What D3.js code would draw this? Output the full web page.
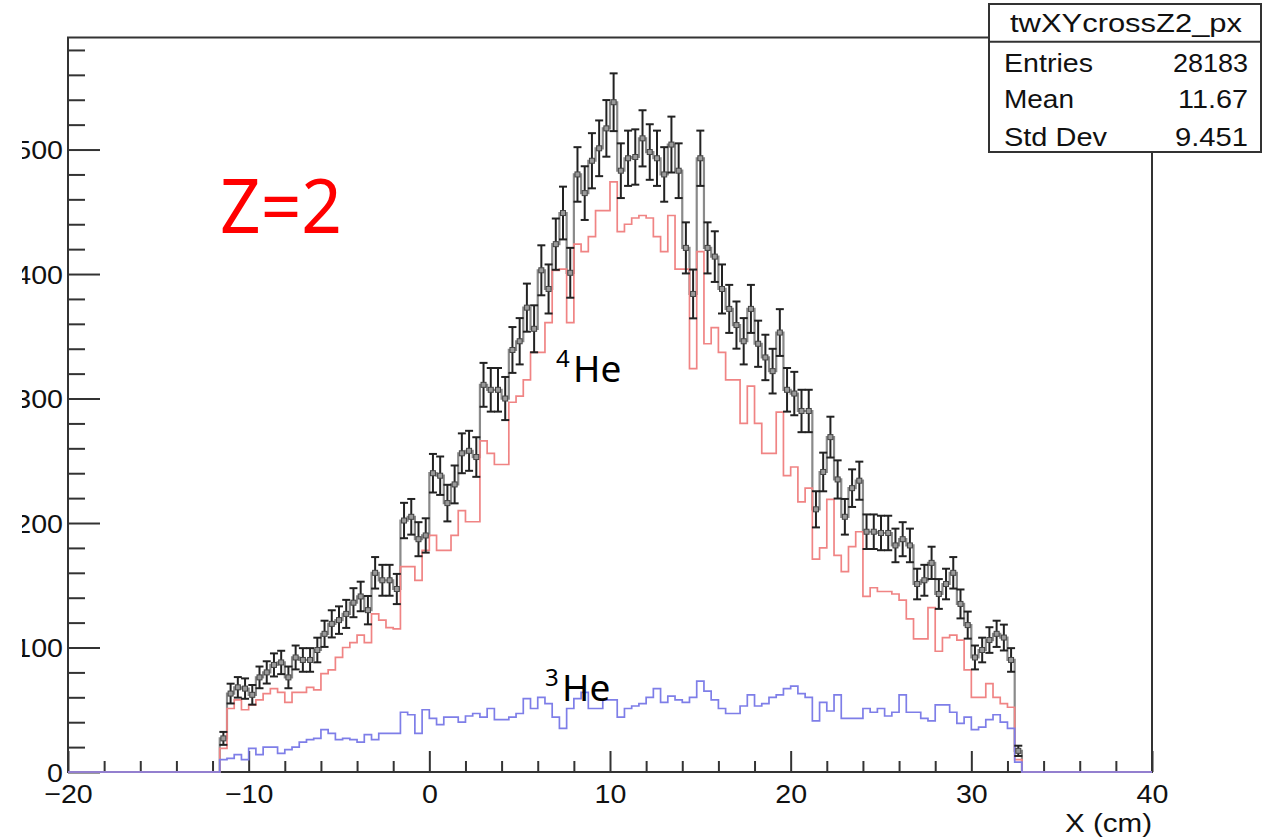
<!DOCTYPE html>
<html>
<head>
<meta charset="utf-8">
<script src="https://cdn.jsdelivr.net/npm/d3@7"></script>
<style>
  html, body { margin: 0; padding: 0; background: #fff; }
  svg { display: block; }
</style>
</head>
<body>
<svg id="chart" width="1262" height="839"></svg>
<script>
// ---------------- DATA ----------------
const binStart = -11.6;   // cm, low edge of first filled bin
const binWidth = 0.4;     // cm

// total (Z=2) data, entries per bin
const totalCounts = [
  27, 63, 68, 67, 62, 76, 80, 86, 88, 76,
  92, 90, 90, 98, 111, 119, 122, 127, 136, 141,
  130, 160, 154, 154, 147, 202, 205, 187, 190, 240,
  238, 216, 231, 256, 258, 253, 311, 307, 307, 300,
  339, 346, 373, 356, 403, 388, 424, 449, 401, 480,
  465, 491, 501, 517, 538, 483, 493, 494, 509, 498,
  493, 480, 504, 483, 421, 384, 493, 421, 414, 388,
  372, 359, 346, 372, 344, 333, 322, 353, 307, 304,
  290, 290, 211, 241, 269, 235, 205, 228, 234, 193,
  193, 192, 192, 182, 187, 182, 151, 154, 168, 143,
  151, 160, 135, 118, 92, 98, 106, 111, 108, 90,
  17
];

// 4He component
const he4Counts = [
  19, 51, 58, 50, 54, 58, 63, 67, 64, 56,
  64, 64, 68, 66, 79, 82, 92, 100, 104, 110,
  104, 127, 122, 116, 115, 165, 165, 154, 178, 190,
  178, 178, 190, 210, 201, 201, 266, 256, 247, 247,
  297, 302, 315, 337, 337, 361, 403, 404, 361, 424,
  418, 430, 451, 451, 474, 434, 440, 445, 447, 445,
  430, 418, 447, 404, 404, 324, 418, 344, 357, 337,
  315, 315, 280, 310, 280, 256, 256, 289, 238, 245,
  217, 228, 171, 180, 219, 174, 161, 181, 193, 141,
  148, 145, 145, 143, 138, 123, 107, 107, 132, 97,
  108, 110, 106, 82, 60, 60, 71, 60, 55, 52,
  10
];

// 3He component
const he3Counts = [
  10, 11, 14, 10, 19, 14, 20, 20, 15, 18,
  20, 24, 26, 27, 34, 31, 26, 27, 26, 24,
  30, 26, 31, 31, 31, 48, 46, 31, 50, 43,
  38, 44, 44, 40, 45, 47, 44, 51, 42, 42,
  44, 47, 59, 51, 60, 55, 44, 35, 51, 59,
  64, 51, 51, 58, 58, 44, 51, 53, 55, 60,
  67, 56, 61, 58, 56, 60, 73, 65, 58, 51,
  47, 47, 53, 62, 53, 55, 60, 62, 67, 69,
  63, 60, 41, 56, 49, 62, 43, 43, 43, 51,
  48, 51, 45, 48, 62, 48, 48, 43, 41, 54,
  54, 48, 39, 44, 34, 36, 42, 46, 40, 35,
  8
];

const xTickValues = [-20, -10, 0, 10, 20, 30, 40];
const xTickLabels = ["\u221220", "\u221210", "0", "10", "20", "30", "40"];
const yTickValues = [0, 100, 200, 300, 400, 500];
const yTickLabels = ["0", "100", "200", "300", "400", "500"];

const statsTitle = "twXYcrossZ2_px";
const statsNames = ["Entries", "Mean", "Std Dev"];
const statsValues = ["28183", "11.67", "9.451"];

// ---------------- LAYOUT ----------------
const svg = d3.select("#chart");
const L = 68, R = 1152, T = 37.5, B = 772;
const x = d3.scaleLinear().domain([-20, 40]).range([L, R]);
const y = d3.scaleLinear().domain([0, 590]).range([B, T]);
const frameColor = "#333";
const font = "'Liberation Sans', Arial, Helvetica, sans-serif";
const stretch = 1.1; // the reference picture is slightly wider than tall

function widen(sel) {
  sel.each(function () {
    const len = this.getComputedTextLength();
    d3.select(this).attr("textLength", len * stretch).attr("lengthAdjust", "spacingAndGlyphs");
  });
}

// frame
svg.append("rect").attr("x", L).attr("y", T).attr("width", R - L).attr("height", B - T)
  .attr("fill", "none").attr("stroke", frameColor).attr("stroke-width", 2);

// axes with d3 axis generators (major ticks)
const xAxisMajor = d3.axisBottom(x).tickValues(xTickValues).tickSize(-21)
  .tickFormat((d, i) => xTickLabels[i]).tickPadding(0);
const gx = svg.append("g").attr("transform", `translate(0,${B})`).call(xAxisMajor);
gx.select(".domain").remove();
gx.selectAll(".tick line").attr("stroke", frameColor).attr("stroke-width", 2);
gx.selectAll(".tick text").attr("font-family", font).attr("font-size", 26)
  .attr("fill", "#111").attr("dy", null).attr("y", 31).call(widen);

const xMinor = d3.range(-20, 40.001, 2).filter(v => xTickValues.indexOf(v) < 0);
const gxm = svg.append("g").attr("transform", `translate(0,${B})`)
  .call(d3.axisBottom(x).tickValues(xMinor).tickSize(-11).tickFormat(""));
gxm.select(".domain").remove();
gxm.selectAll(".tick line").attr("stroke", frameColor).attr("stroke-width", 2);

const yAxisMajor = d3.axisLeft(y).tickValues(yTickValues).tickSize(-32)
  .tickFormat((d, i) => yTickLabels[i]).tickPadding(0);
const gy = svg.append("g").attr("transform", `translate(${L},0)`).call(yAxisMajor);
gy.select(".domain").remove();
gy.selectAll(".tick line").attr("stroke", frameColor).attr("stroke-width", 2);
gy.selectAll(".tick text").attr("font-family", font).attr("font-size", 26)
  .attr("fill", "#111").attr("x", -5).attr("dy", "0.35em").call(widen);

const yMinor = d3.range(0, 590, 20).filter(v => v % 100 !== 0);
const gym = svg.append("g").attr("transform", `translate(${L},0)`)
  .call(d3.axisLeft(y).tickValues(yMinor).tickSize(-17).tickFormat(""));
gym.select(".domain").remove();
gym.selectAll(".tick line").attr("stroke", frameColor).attr("stroke-width", 2);

// the reference is cropped at the left: mask the start of the y labels
svg.append("rect").attr("x", 0).attr("y", 0).attr("width", 22).attr("height", 760).attr("fill", "#fff");

// x axis title
svg.append("text").attr("x", R).attr("y", 832).attr("text-anchor", "end")
  .attr("font-family", font).attr("font-size", 25).attr("fill", "#111")
  .attr("textLength", 87).attr("lengthAdjust", "spacingAndGlyphs").text("X (cm)");

// ---------------- HISTOGRAMS ----------------
function stepPoints(counts) {
  const pts = [[-20, 0], [binStart, 0]];
  counts.forEach((v, i) => {
    const x0 = binStart + i * binWidth, x1 = x0 + binWidth;
    pts.push([x0, v], [x1, v]);
  });
  pts.push([binStart + counts.length * binWidth, 0], [40, 0]);
  return pts;
}
const line = d3.line().x(d => x(d[0])).y(d => y(d[1]));

// data histogram (grey step line)
svg.append("path").attr("d", line(stepPoints(totalCounts)))
  .attr("fill", "none").attr("stroke", "#8a8a8a").attr("stroke-width", 2.2);

// 4He (red)
svg.append("path").attr("d", line(stepPoints(he4Counts)))
  .attr("fill", "none").attr("stroke", "#f08484").attr("stroke-width", 1.7);

// 3He (blue)
svg.append("path").attr("d", line(stepPoints(he3Counts)))
  .attr("fill", "none").attr("stroke", "#7e7ee8").attr("stroke-width", 1.7);

// error bars on data
const eb = svg.append("g");
totalCounts.forEach((v, i) => {
  const xc = x(binStart + (i + 0.5) * binWidth);
  const e = Math.sqrt(v);
  const yt = y(v + e), yb = y(Math.max(0, v - e)), ym = y(v);
  eb.append("line").attr("x1", xc).attr("x2", xc).attr("y1", yt).attr("y2", yb)
    .attr("stroke", "#222").attr("stroke-width", 2);
  [yt, yb].forEach(yy => eb.append("line").attr("x1", xc - 4).attr("x2", xc + 4)
    .attr("y1", yy).attr("y2", yy).attr("stroke", "#222").attr("stroke-width", 2));
  eb.append("rect").attr("x", xc - 2.5).attr("y", ym - 2.5).attr("width", 5).attr("height", 5)
    .attr("fill", "#999").attr("stroke", "#444").attr("stroke-width", 1);
});

// ---------------- ANNOTATIONS ----------------
const annFont = "'Noto Sans', 'Open Sans', sans-serif";
svg.append("text").attr("x", 220).attr("y", 233).attr("font-family", annFont)
  .attr("font-size", 74).attr("fill", "#ff0000").attr("textLength", 122)
  .attr("lengthAdjust", "spacingAndGlyphs").text("Z=2");

function isoLabel(mass, xs, ys) {
  svg.append("text").attr("x", xs).attr("y", ys - 15).attr("font-family", annFont)
    .attr("font-size", 24).attr("fill", "#000").text(mass);
  svg.append("text").attr("x", xs + 17).attr("y", ys).attr("font-family", annFont)
    .attr("font-size", 37).attr("fill", "#000").text("He");
}
isoLabel("4", 556, 382);
isoLabel("3", 545, 701);

// ---------------- STATS BOX ----------------
const bx = 989, by = 4, bw = 272, bh = 148, titleH = 37.7;
svg.append("rect").attr("x", bx).attr("y", by).attr("width", bw).attr("height", bh)
  .attr("fill", "#fff").attr("stroke", frameColor).attr("stroke-width", 2);
svg.append("line").attr("x1", bx).attr("x2", bx + bw).attr("y1", by + titleH).attr("y2", by + titleH)
  .attr("stroke", frameColor).attr("stroke-width", 2);
svg.append("text").attr("x", 1010).attr("y", 32).attr("font-family", font).attr("font-size", 26)
  .attr("fill", "#111").attr("textLength", 232).attr("lengthAdjust", "spacingAndGlyphs").text(statsTitle);

const rowY = [72, 108, 146];
const nameLen = [89, 70, 103];
const valLen = [75, 70, 73];
statsNames.forEach((n, i) => {
  svg.append("text").attr("x", 1004).attr("y", rowY[i]).attr("font-family", font)
    .attr("font-size", 26).attr("fill", "#111").attr("textLength", nameLen[i])
    .attr("lengthAdjust", "spacingAndGlyphs").text(n);
  svg.append("text").attr("x", 1248 - valLen[i]).attr("y", rowY[i]).attr("font-family", font)
    .attr("font-size", 26).attr("fill", "#111").attr("textLength", valLen[i])
    .attr("lengthAdjust", "spacingAndGlyphs").text(statsValues[i]);
});
</script>
</body>
</html>
